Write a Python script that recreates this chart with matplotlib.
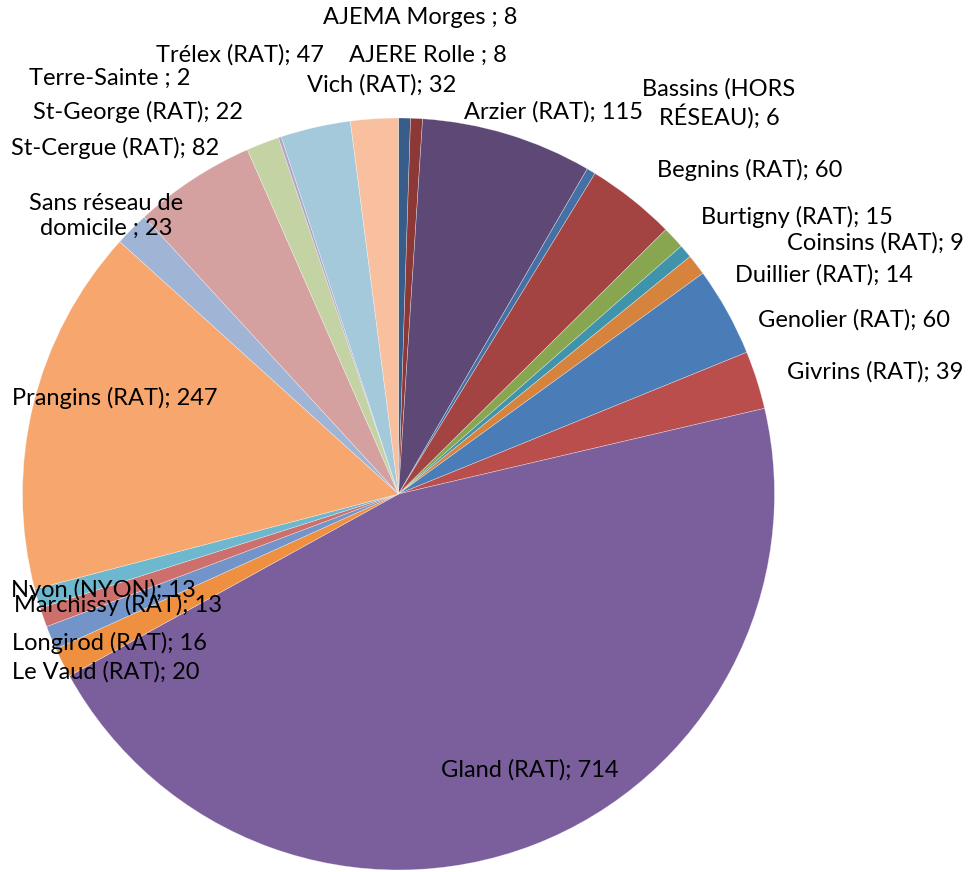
import matplotlib
matplotlib.use("Agg")
import matplotlib.pyplot as plt

labels = ["AJEMA Morges ", "AJERE Rolle ", "Arzier (RAT)", "Bassins (HORS\nRÉSEAU)",
          "Begnins (RAT)", "Burtigny (RAT)", "Coinsins (RAT)", "Duillier (RAT)",
          "Genolier (RAT)", "Givrins (RAT)", "Gland (RAT)", "Le Vaud (RAT)",
          "Longirod (RAT)", "Marchissy (RAT)", "Nyon (NYON)", "Prangins (RAT)",
          "Sans réseau de\ndomicile ", "St-Cergue (RAT)", "St-George (RAT)",
          "Terre-Sainte ", "Trélex (RAT)", "Vich (RAT)"]
values = [8, 8, 115, 6, 60, 15, 9, 14, 60, 39, 714, 20, 16, 13, 13, 247, 23, 82, 22, 2, 47, 32]

colors = ["#385D8A", "#8C3836", "#5E4876", "#4470A5", "#A44442", "#88A550",
          "#3F93AA", "#D6833E", "#4A7DB8", "#B94E4C", "#7B5F9D", "#EE9040",
          "#7394C8", "#CC6F6D", "#6DB8CF", "#F7A76D", "#A0B4D6", "#D5A0A0",
          "#C3D3A3", "#B3A4C6", "#A3C9DA", "#F8C09F"]

# label centres in pixel coordinates (x, y from top)
label_pos = [(420, 18), (428, 55), (553, 112), (719, 103), (750, 170), (797, 217),
             (875, 243), (824, 275), (854, 320), (875, 372), (530, 770), (106, 672),
             (110, 643), (118, 605), (103, 590), (115, 398), (106, 216), (115, 148),
             (138, 112), (110, 78), (240, 55), (382, 85)]

W, H = 971, 872
fig = plt.figure(figsize=(W / 100, H / 100), dpi=100)
ax = fig.add_axes([0, 0, 1, 1])

cx, cy, r = 398.5, 494, 376
ax.pie(values, colors=colors, startangle=90, counterclock=False,
       center=(cx, H - cy), radius=r,
       wedgeprops=dict(edgecolor=(1, 1, 1, 0.5), linewidth=0.4))

for lab, v, (px, py) in zip(labels, values, label_pos):
    ax.text(px, H - py, "%s; %d" % (lab, v), ha="center", va="center",
            fontsize=17, family="Lato", color="black", linespacing=1.2)

ax.set_xlim(0, W)
ax.set_ylim(0, H)
ax.set_aspect("equal")
ax.axis("off")

fig.savefig("out.png", dpi=100)
